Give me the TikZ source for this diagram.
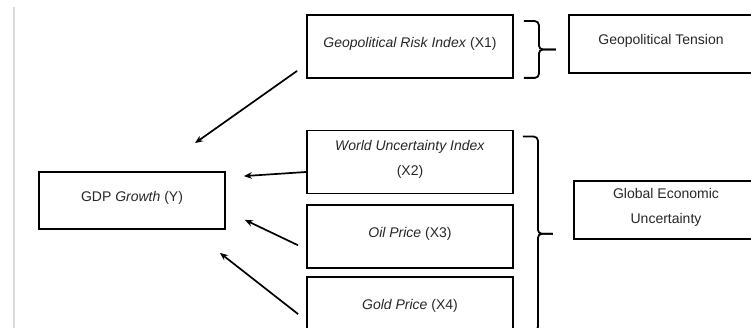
\documentclass[tikz,border=0pt]{standalone}
\usepackage{fontspec}
\setmainfont{Liberation Sans}
\setsansfont{Liberation Sans}
\usetikzlibrary{calc}
\usetikzlibrary{positioning}
\usetikzlibrary{arrows.meta}
\tikzset{every picture/.style={/utils/exec={\sffamily}}}

\begin{document}
\begin{tikzpicture}[x=1pt, y=-1pt,
  node distance=10pt,
  box/.style={draw, line width=1.8pt, minimum width=206pt, minimum height=63pt,
    inner sep=0pt, align=center, text depth=9pt, text=black!85, font=\fontsize{14}{25}\selectfont},
  arr/.style={-{Stealth[length=8pt,width=6.5pt]}, line width=1.7pt},
  brc/.style={line width=1.8pt, rounded corners=4pt}
  ]

  \useasboundingbox (0,0) rectangle (751,328);
  \clip (0,0) rectangle (751,328);

  \draw [black!15, line width=2pt] (14,7) -- (14,328);

  \node [box, minimum width=186pt, minimum height=57pt] (gdp) at (132,200.5) {GDP \textit{Growth} (Y)};

  \node [box] (risk) at (410,46.5) {\textit{Geopolitical Risk Index} (X1)};
  \node [box] (world) at (410,162) {\textit{World Uncertainty Index}\\(X2)};
  \node [box, below=10pt of world] (oil) {\textit{Oil Price} (X3)};
  \node [box, below=7pt of oil] (gold) {\textit{Gold Price} (X4)};

  \node [box, minimum width=184pt, minimum height=58pt] (tension) at (661,44) {Geopolitical Tension};
  \node [box, minimum width=184pt, minimum height=58pt] (global) at (666,210) {Global Economic\\Uncertainty};

  % braces
  \coordinate (b1top) at ([shift={(10,7)}]risk.north east);
  \coordinate (b1bot) at ([shift={(10,-1)}]risk.south east);
  \coordinate (b1tip) at ($(b1top)!0.5!(b1bot)+(32,0)$);
  \draw [brc] (b1top) -- ++(15,0) |- (b1tip);
  \draw [brc] (b1bot) -- ++(15,0) |- (b1tip);

  \coordinate (b2top) at ([shift={(9,7)}]world.north east);
  \coordinate (b2bot) at ([shift={(9,-10)}]gold.south east);
  \coordinate (b2tip) at ($(b2top)!0.5!(b2bot)+(30,0)$);
  \draw [brc] (b2top) -- ++(15,0) |- (b2tip);
  \draw [brc] (b2bot) -- ++(15,0) |- (b2tip);

  % arrows into GDP
  \draw [arr] ([shift={(-9,-8)}]risk.south west) -- ([shift={(63,-28)}]gdp.north);
  \draw [arr] ([shift={(0,10)}]world.west) -- ([shift={(18,5)}]gdp.north east);
  \draw [arr] ([shift={(-8,8.5)}]oil.west) -- ([shift={(19,-10)}]gdp.south east);
  \draw [arr] ([shift={(-8,5.5)}]gold.west) -- ([shift={(-6,23)}]gdp.south east);
\end{tikzpicture}
\end{document}
